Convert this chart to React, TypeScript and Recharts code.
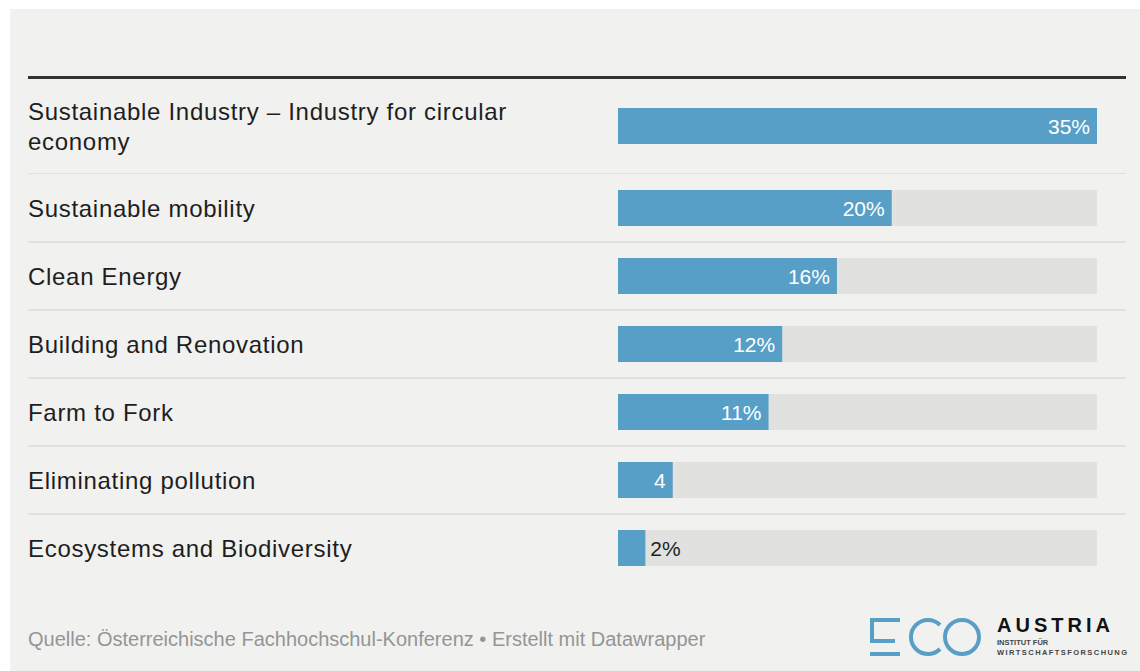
import { BarChart, Bar, XAxis, YAxis, LabelList } from 'recharts';

const categories = [
  'Sustainable Industry – Industry for circular economy',
  'Sustainable mobility',
  'Clean Energy',
  'Building and Renovation',
  'Farm to Fork',
  'Eliminating pollution',
  'Ecosystems and Biodiversity',
];
const shares = [35, 20, 16, 12, 11, 4, 2];
const valueLabels = ['35%', '20%', '16%', '12%', '11%', '4', '2%'];
const maxShare = 35;

const FONT = '"Liberation Sans", Arial, Helvetica, sans-serif';
const BLUE = '#589fc7';

const rows = categories.map((name, i) => ({ name, value: shares[i], label: valueLabels[i] }));

// word wrap for long category names
function wrap(text: string, maxChars: number) {
  const words = text.split(' ');
  const lines: string[] = [];
  let cur = '';
  words.forEach((w) => {
    const next = cur ? cur + ' ' + w : w;
    if (next.length > maxChars && cur) {
      lines.push(cur);
      cur = w;
    } else {
      cur = next;
    }
  });
  if (cur) lines.push(cur);
  return lines;
}

function RowTick({ y, payload, half, lastName }: any) {
  const lines = wrap(payload.value, 44);
  const lh = 30;
  const top = y - ((lines.length - 1) * lh) / 2 + 9;
  return (
    <g>
      {lines.map((l, i) => (
        <text
          key={i}
          x={0}
          y={top + i * lh}
          fill="#1e1e1e"
          fontSize={24}
          fontFamily={FONT}
          style={{ letterSpacing: '0.7px' }}
        >
          {l}
        </text>
      ))}
      {payload.value !== lastName && (
        <line x1={0} x2={1098} y1={y + half} y2={y + half} stroke="#e0e0df" strokeWidth={2} />
      )}
    </g>
  );
}

function ValueLabel({ x, y, width, height, value }: any) {
  const inside = width > 40;
  return (
    <text
      x={inside ? x + width - 7 : x + width + 5}
      y={y + height / 2 + 7.5}
      textAnchor={inside ? 'end' : 'start'}
      fill={inside ? '#ffffff' : '#1e1e1e'}
      fontSize={21}
      fontFamily={FONT}
    >
      {value}
    </text>
  );
}

function Rows({ data, height, half }: { data: any[]; height: number; half: number }) {
  return (
    <BarChart
      width={1098}
      height={height}
      data={data}
      layout="vertical"
      margin={{ top: 0, right: 29, bottom: 0, left: 0 }}
      barCategoryGap={0}
    >
      <XAxis type="number" domain={[0, maxShare]} hide />
      <YAxis
        type="category"
        dataKey="name"
        width={590}
        axisLine={false}
        tickLine={false}
        interval={0}
        tick={<RowTick half={half} lastName={categories[categories.length - 1]} />}
      />
      <Bar dataKey="value" fill={BLUE} barSize={36} background={{ fill: '#e1e1e0' }} isAnimationActive={false}>
        <LabelList dataKey="label" content={<ValueLabel />} />
      </Bar>
    </BarChart>
  );
}

function Logo() {
  return (
    <svg width={290} height={60} style={{ position: 'absolute', left: 850, top: 605 }}>
      <g transform="translate(-850,-605)" fill="none" stroke={BLUE} strokeWidth={4}>
        <path d="M900 620 H872 V641 H895" />
        <path d="M870 654 H900" />
        <path d="M940 625 A17 17 0 1 0 940 649" />
        <circle cx={962} cy={637} r={17} />
      </g>
      <g transform="translate(-850,-605)" fontFamily={FONT} fontWeight="bold">
        <text x={997} y={632} fontSize={20} fill="#111" textLength={113} lengthAdjust="spacing">
          AUSTRIA
        </text>
        <text x={997} y={645} fontSize={7.5} fill="#444">
          INSTITUT FÜR
        </text>
        <text x={997} y={655} fontSize={7.5} fill="#444" textLength={130} lengthAdjust="spacing">
          WIRTSCHAFTSFORSCHUNG
        </text>
      </g>
    </svg>
  );
}

export default function App() {
  return (
    <div style={{ position: 'relative', width: 1140, height: 671, background: '#fff', overflow: 'hidden' }}>
      <style>{'body{margin:0}'}</style>
      <div style={{ position: 'absolute', left: 10, top: 9, width: 1130, height: 662, background: '#f1f1f0' }} />
      <div style={{ position: 'absolute', left: 28, top: 76, width: 1098, height: 3, background: '#333' }} />
      <div style={{ position: 'absolute', left: 28, top: 78 }}>
        <Rows data={rows.slice(0, 1)} height={96} half={48} />
      </div>
      <div style={{ position: 'absolute', left: 28, top: 174 }}>
        <Rows data={rows.slice(1)} height={408} half={34} />
      </div>
      <div
        style={{
          position: 'absolute',
          left: 28,
          top: 629,
          fontFamily: FONT,
          fontSize: 20,
          lineHeight: '20px',
          color: '#959595',
          whiteSpace: 'nowrap',
        }}
      >
        Quelle: Österreichische Fachhochschul-Konferenz • Erstellt mit Datawrapper
      </div>
      <Logo />
    </div>
  );
}
